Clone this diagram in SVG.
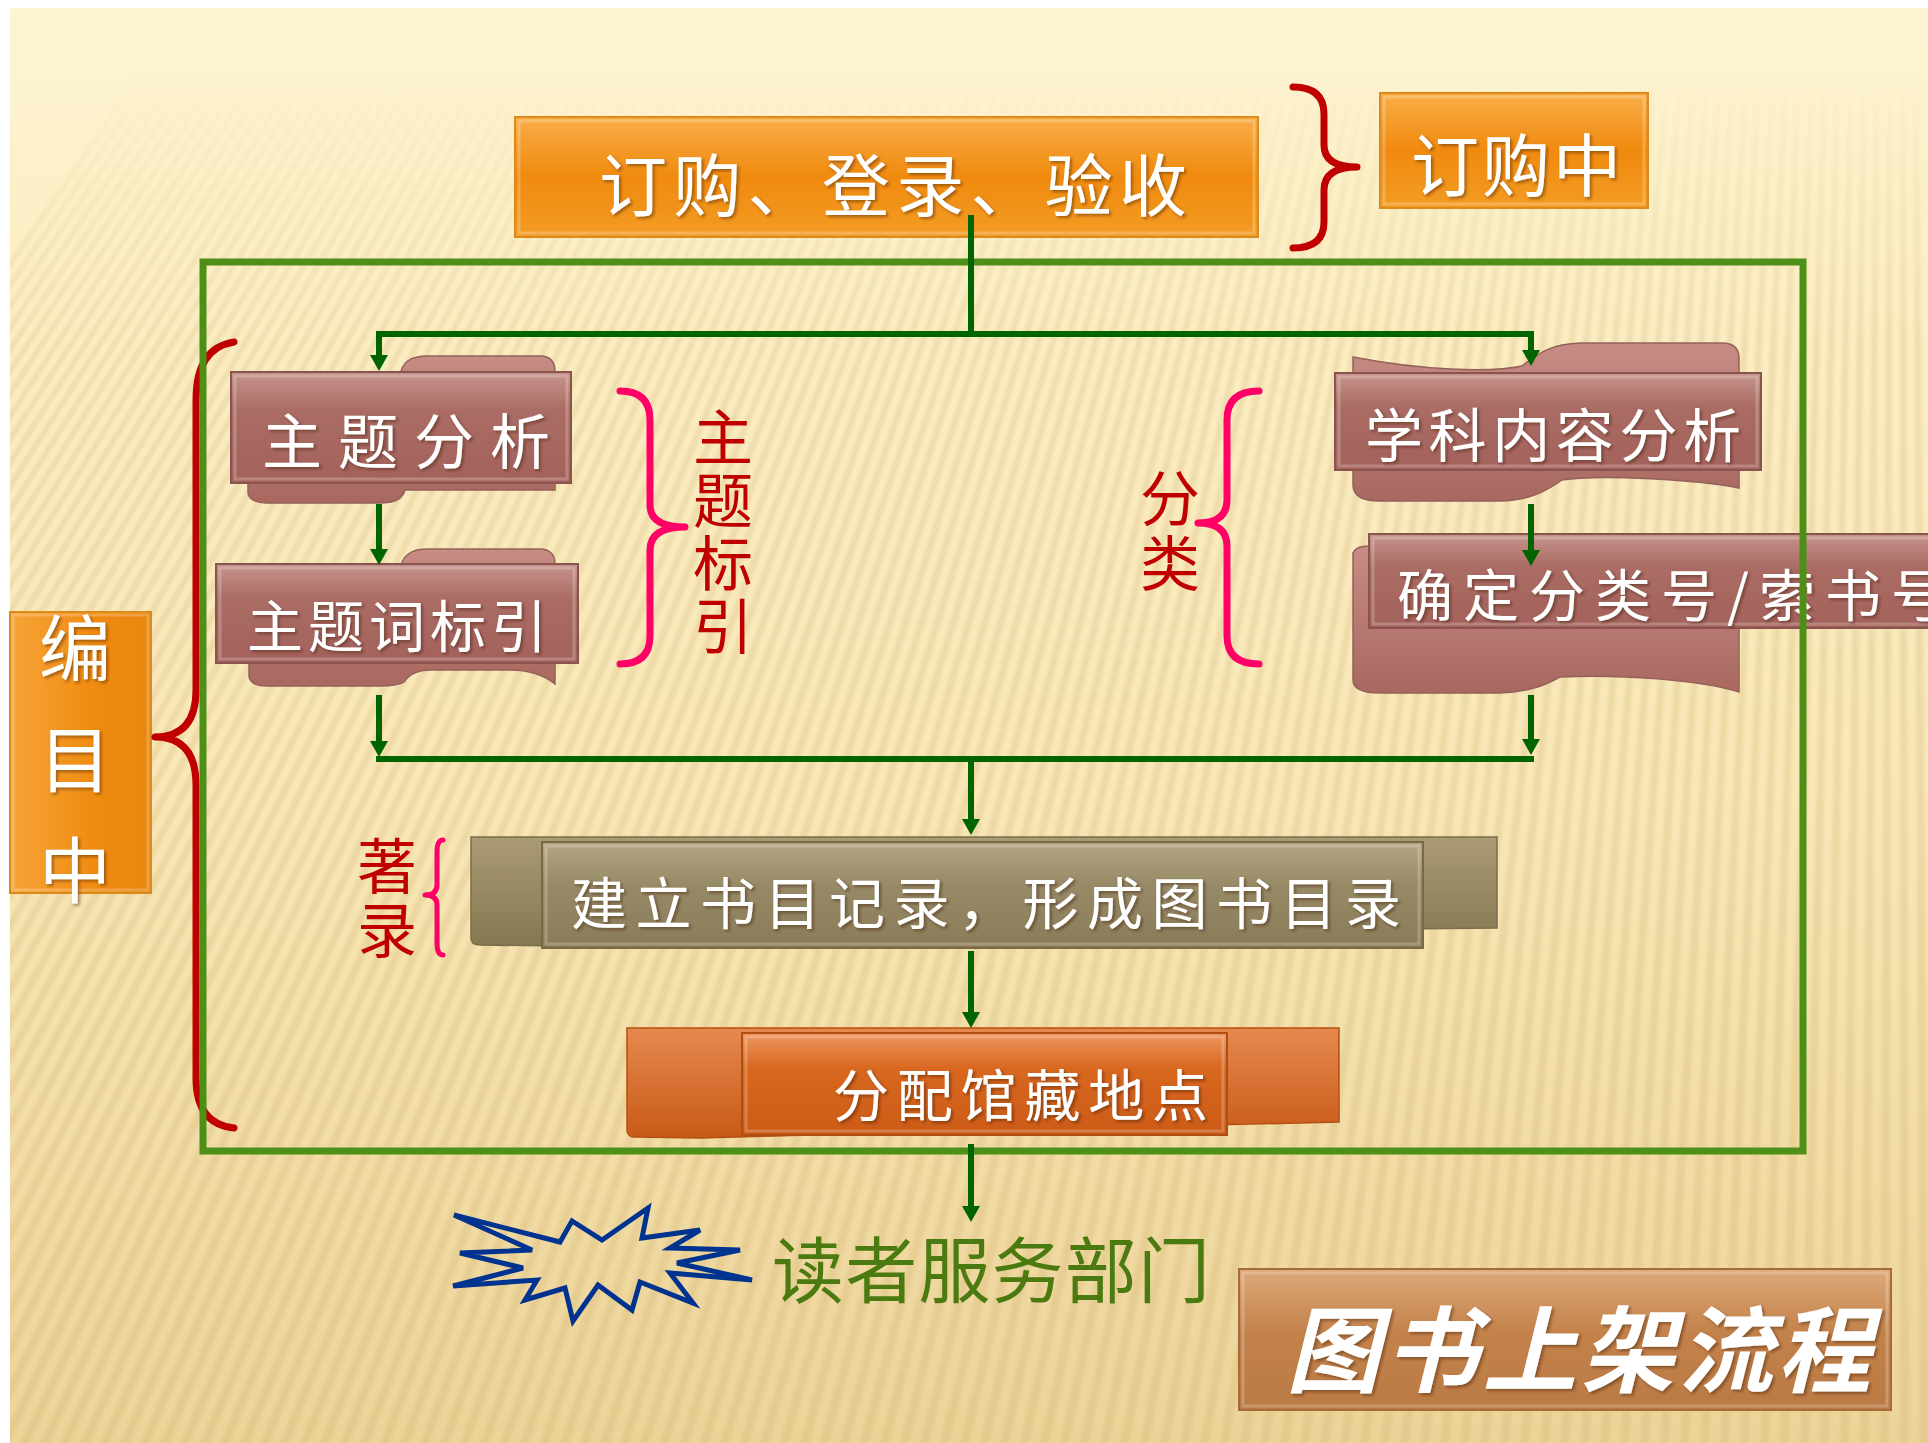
<svg xmlns="http://www.w3.org/2000/svg" width="1928" height="1443" viewBox="0 0 1928 1443">
<defs>
<style>
.wt{fill:#fff;font-family:"Noto Sans CJK SC","Noto Sans",sans-serif;dominant-baseline:central;filter:url(#sh)}
.wv{fill:#fff;font-family:"Noto Sans CJK SC","Noto Sans",sans-serif;writing-mode:vertical-rl;filter:url(#sh)}
.rl{fill:#C00000;font-family:"Noto Sans CJK SC","Noto Sans",sans-serif;font-size:60px;writing-mode:vertical-rl}
.conn{stroke:#006400;stroke-width:6;fill:none}
.arr{marker-end:url(#ah)}
.br{fill:none;stroke:#C00000;stroke-width:7;stroke-linecap:round;stroke-linejoin:round}
.bp{fill:none;stroke:#FF0066;stroke-width:7;stroke-linecap:round;stroke-linejoin:round}
.bev{fill:none;stroke:#fff;stroke-opacity:0.22;stroke-width:3}
</style>
<marker id="ah" markerUnits="userSpaceOnUse" markerWidth="16" markerHeight="18" refX="1" refY="9" orient="auto" viewBox="0 0 16 18"><path d="M0,0 L16,9 L0,18 z" fill="#006400"/></marker>
<filter id="sh" x="-20%" y="-20%" width="140%" height="140%"><feDropShadow dx="2" dy="2" stdDeviation="1.5" flood-color="#3a1a10" flood-opacity="0.45"/></filter>
<filter id="soft"><feGaussianBlur stdDeviation="1.5"/></filter>
<clipPath id="cBg"><rect x="10" y="8" width="1918" height="1435"/></clipPath>
<linearGradient id="gBg" x1="0" y1="0" x2="0" y2="1"><stop offset="0" stop-color="#FDF4D4"/><stop offset="0.12" stop-color="#FCF0C8"/><stop offset="0.55" stop-color="#F8E7B7"/><stop offset="1" stop-color="#ECD499"/></linearGradient>
<linearGradient id="gFade" gradientUnits="userSpaceOnUse" x1="0" y1="70" x2="0" y2="340"><stop offset="0" stop-color="#fff" stop-opacity="0"/><stop offset="1" stop-color="#fff" stop-opacity="1"/></linearGradient>
<mask id="mFade"><rect x="0" y="0" width="1928" height="1443" fill="url(#gFade)"/></mask>
<linearGradient id="gOr" x1="0" y1="0" x2="0" y2="1"><stop offset="0" stop-color="#F8AE48"/><stop offset="0.5" stop-color="#F08A0E"/><stop offset="1" stop-color="#F39C24"/></linearGradient>
<linearGradient id="gOrV" x1="0" y1="0" x2="1" y2="0"><stop offset="0" stop-color="#F6A438"/><stop offset="0.6" stop-color="#F08B10"/><stop offset="1" stop-color="#E8860E"/></linearGradient>
<linearGradient id="gRose" x1="0" y1="0" x2="0" y2="1"><stop offset="0" stop-color="#C6948C"/><stop offset="0.35" stop-color="#AA6C64"/><stop offset="1" stop-color="#A3625B"/></linearGradient>
<linearGradient id="gRoseB" x1="0" y1="0" x2="0" y2="1"><stop offset="0" stop-color="#C78C84"/><stop offset="1" stop-color="#A86860"/></linearGradient>
<linearGradient id="gOl" x1="0" y1="0" x2="0" y2="1"><stop offset="0" stop-color="#B5A783"/><stop offset="0.4" stop-color="#978A66"/><stop offset="1" stop-color="#8A7C58"/></linearGradient>
<linearGradient id="gOlB" x1="0" y1="0" x2="0" y2="1"><stop offset="0" stop-color="#AA9B75"/><stop offset="1" stop-color="#857750"/></linearGradient>
<linearGradient id="gO2" x1="0" y1="0" x2="0" y2="1"><stop offset="0" stop-color="#EE9660"/><stop offset="0.35" stop-color="#D8671F"/><stop offset="1" stop-color="#CB5B16"/></linearGradient>
<linearGradient id="gO2B" x1="0" y1="0" x2="0" y2="1"><stop offset="0" stop-color="#E6894F"/><stop offset="1" stop-color="#C85A18"/></linearGradient>
<linearGradient id="gTi" x1="0" y1="0" x2="0" y2="1"><stop offset="0" stop-color="#DEA97A"/><stop offset="0.45" stop-color="#C3824A"/><stop offset="1" stop-color="#BA7A44"/></linearGradient>
</defs>

<g id="background">
<rect x="0" y="0" width="1928" height="1443" fill="#fff"/>
<rect x="10" y="8" width="1918" height="1435" fill="url(#gBg)"/>
<g clip-path="url(#cBg)"><g mask="url(#mFade)">
<path filter="url(#soft)" fill="#C9A258" fill-opacity="0.2" d="M1900-2500L-800 1443h9zM1900-2500L-780 1443h9zM1900-2500L-760 1443h9zM1900-2500L-740 1443h9zM1900-2500L-720 1443h9zM1900-2500L-700 1443h9zM1900-2500L-680 1443h9zM1900-2500L-660 1443h9zM1900-2500L-640 1443h9zM1900-2500L-620 1443h9zM1900-2500L-600 1443h9zM1900-2500L-580 1443h9zM1900-2500L-560 1443h9zM1900-2500L-540 1443h9zM1900-2500L-520 1443h9zM1900-2500L-500 1443h9zM1900-2500L-480 1443h9zM1900-2500L-460 1443h9zM1900-2500L-440 1443h9zM1900-2500L-420 1443h9zM1900-2500L-400 1443h9zM1900-2500L-380 1443h9zM1900-2500L-360 1443h9zM1900-2500L-340 1443h9zM1900-2500L-320 1443h9zM1900-2500L-300 1443h9zM1900-2500L-280 1443h9zM1900-2500L-260 1443h9zM1900-2500L-240 1443h9zM1900-2500L-220 1443h9zM1900-2500L-200 1443h9zM1900-2500L-180 1443h9zM1900-2500L-160 1443h9zM1900-2500L-140 1443h9zM1900-2500L-120 1443h9zM1900-2500L-100 1443h9zM1900-2500L-80 1443h9zM1900-2500L-60 1443h9zM1900-2500L-40 1443h9zM1900-2500L-20 1443h9zM1900-2500L0 1443h9zM1900-2500L20 1443h9zM1900-2500L40 1443h9zM1900-2500L60 1443h9zM1900-2500L80 1443h9zM1900-2500L100 1443h9zM1900-2500L120 1443h9zM1900-2500L140 1443h9zM1900-2500L160 1443h9zM1900-2500L180 1443h9zM1900-2500L200 1443h9zM1900-2500L220 1443h9zM1900-2500L240 1443h9zM1900-2500L260 1443h9zM1900-2500L280 1443h9zM1900-2500L300 1443h9zM1900-2500L320 1443h9zM1900-2500L340 1443h9zM1900-2500L360 1443h9zM1900-2500L380 1443h9zM1900-2500L400 1443h9zM1900-2500L420 1443h9zM1900-2500L440 1443h9zM1900-2500L460 1443h9zM1900-2500L480 1443h9zM1900-2500L500 1443h9zM1900-2500L520 1443h9zM1900-2500L540 1443h9zM1900-2500L560 1443h9zM1900-2500L580 1443h9zM1900-2500L600 1443h9zM1900-2500L620 1443h9zM1900-2500L640 1443h9zM1900-2500L660 1443h9zM1900-2500L680 1443h9zM1900-2500L700 1443h9zM1900-2500L720 1443h9zM1900-2500L740 1443h9zM1900-2500L760 1443h9zM1900-2500L780 1443h9zM1900-2500L800 1443h9zM1900-2500L820 1443h9zM1900-2500L840 1443h9zM1900-2500L860 1443h9zM1900-2500L880 1443h9zM1900-2500L900 1443h9zM1900-2500L920 1443h9zM1900-2500L940 1443h9zM1900-2500L960 1443h9zM1900-2500L980 1443h9zM1900-2500L1000 1443h9zM1900-2500L1020 1443h9zM1900-2500L1040 1443h9zM1900-2500L1060 1443h9zM1900-2500L1080 1443h9zM1900-2500L1100 1443h9zM1900-2500L1120 1443h9zM1900-2500L1140 1443h9zM1900-2500L1160 1443h9zM1900-2500L1180 1443h9zM1900-2500L1200 1443h9zM1900-2500L1220 1443h9zM1900-2500L1240 1443h9zM1900-2500L1260 1443h9zM1900-2500L1280 1443h9zM1900-2500L1300 1443h9zM1900-2500L1320 1443h9zM1900-2500L1340 1443h9zM1900-2500L1360 1443h9zM1900-2500L1380 1443h9zM1900-2500L1400 1443h9zM1900-2500L1420 1443h9zM1900-2500L1440 1443h9zM1900-2500L1460 1443h9zM1900-2500L1480 1443h9zM1900-2500L1500 1443h9zM1900-2500L1520 1443h9zM1900-2500L1540 1443h9zM1900-2500L1560 1443h9zM1900-2500L1580 1443h9zM1900-2500L1600 1443h9zM1900-2500L1620 1443h9zM1900-2500L1640 1443h9zM1900-2500L1660 1443h9zM1900-2500L1680 1443h9zM1900-2500L1700 1443h9zM1900-2500L1720 1443h9zM1900-2500L1740 1443h9zM1900-2500L1760 1443h9zM1900-2500L1780 1443h9zM1900-2500L1800 1443h9zM1900-2500L1820 1443h9zM1900-2500L1840 1443h9zM1900-2500L1860 1443h9zM1900-2500L1880 1443h9zM1900-2500L1900 1443h9zM1900-2500L1920 1443h9z"/>
</g></g>
</g>

<g id="node-order">
<rect x="515" y="117" width="743" height="120" fill="url(#gOr)" stroke="#DC8A1C" stroke-width="2"/>
<rect x="519" y="121" width="735" height="112" class="bev"/>
<text class="wt" x="599" y="181" font-size="68" textLength="588" lengthAdjust="spacing">订购、登录、验收</text>
</g>

<g id="brace-ordering"><path class="br" d="M1293,87 Q1324,87 1324,114 L1324,145 Q1324,167 1357,167 Q1324,167 1324,190 L1324,222 Q1324,248 1293,248"/></g>

<g id="node-ordering">
<rect x="1380" y="93" width="268" height="115" fill="url(#gOr)" stroke="#DC8A1C" stroke-width="2"/>
<rect x="1384" y="97" width="260" height="107" class="bev"/>
<text class="wt" x="1411" y="161" font-size="68" textLength="210" lengthAdjust="spacing">订购中</text>
</g>

<g id="node-cataloging">
<rect x="10" y="612" width="141" height="281" fill="url(#gOrV)" stroke="#DC8A1C" stroke-width="2"/>
<rect x="13" y="615" width="135" height="275" class="bev"/>
<text class="wv" x="75" y="612" font-size="72" letter-spacing="39">编目中</text>
</g>

<g id="brace-cataloging"><path class="br" d="M234,342 Q196,348 196,400 L196,690 Q196,737 155,737 Q196,737 196,785 L196,1078 Q196,1124 234,1128"/></g>

<g id="node-subject-analysis">
<path d="M248,376 L400,376 C402,362 410,356 428,356 L540,356 C550,356 555,362 555,372 L555,490 L405,490 C403,498 396,503 380,503 L266,503 C256,503 248,499 248,492 Z" fill="url(#gRoseB)" stroke="#94605A" stroke-width="1.5"/>
<rect x="231" y="372" width="340" height="111" fill="url(#gRose)" stroke="#8A544E" stroke-width="2"/>
<rect x="235" y="376" width="332" height="103" class="bev"/>
<text class="wt" x="262" y="437" font-size="60" textLength="288" lengthAdjust="spacing">主题分析</text>
</g>

<g id="node-subject-indexing">
<path d="M249,570 L400,570 C402,556 410,549 428,549 L540,549 C550,549 555,555 555,564 L555,684 C545,676 530,670 510,670 L430,670 C415,670 408,676 404,682 C400,685 392,686 380,686 L266,686 C256,686 249,682 249,676 Z" fill="url(#gRoseB)" stroke="#94605A" stroke-width="1.5"/>
<rect x="216" y="564" width="362" height="99" fill="url(#gRose)" stroke="#8A544E" stroke-width="2"/>
<rect x="220" y="568" width="354" height="91" class="bev"/>
<text class="wt" x="247" y="622" font-size="56" textLength="300" lengthAdjust="spacing">主题词标引</text>
</g>

<g id="label-subject">
<path class="bp" d="M620,391 Q650,391 650,420 L650,505 Q650,527 685,527 Q650,527 650,550 L650,636 Q650,664 620,664"/>
<text class="rl" x="723" y="407" letter-spacing="3">主题标引</text>
</g>

<g id="label-classify">
<path class="bp" d="M1259,391 Q1227,391 1227,420 L1227,500 Q1227,523 1198,523 Q1227,523 1227,546 L1227,636 Q1227,664 1259,664"/>
<text class="rl" x="1170" y="468" letter-spacing="5">分类</text>
</g>

<g id="node-subject-content">
<path d="M1353,357 C1420,370 1490,373 1522,366 C1540,352 1552,344 1580,343 L1722,343 C1734,343 1739,348 1739,358 L1739,488 C1700,480 1600,474 1562,480 C1545,492 1530,500 1500,501 L1380,501 C1362,501 1353,495 1353,485 Z" fill="url(#gRoseB)" stroke="#94605A" stroke-width="1.5"/>
<rect x="1335" y="373" width="426" height="97" fill="url(#gRose)" stroke="#8A544E" stroke-width="2"/>
<rect x="1339" y="377" width="418" height="89" class="bev"/>
<text class="wt" x="1365" y="432" font-size="58" textLength="376" lengthAdjust="spacing">学科内容分析</text>
</g>

<g id="node-call-number">
<path d="M1353,553 C1356,547 1362,546 1372,546 L1739,546 L1739,692 C1700,680 1620,674 1560,677 C1545,685 1530,692 1500,693 L1380,693 C1362,693 1353,688 1353,680 Z" fill="url(#gRoseB)" stroke="#94605A" stroke-width="1.5"/>
<rect x="1369" y="534" width="600" height="94" fill="url(#gRose)" stroke="#8A544E" stroke-width="2"/>
<rect x="1373" y="538" width="592" height="86" class="bev"/>
<text class="wt" x="1397" y="591" font-size="56" letter-spacing="10">确定分类号/索书号</text>
</g>

<g id="label-description">
<path class="bp" style="stroke-width:5" d="M443,840 Q437,840 437,852 L437,885 Q437,895 425,895 Q437,895 437,905 L437,943 Q437,955 443,955"/>
<text class="rl" x="387" y="836" letter-spacing="4">著录</text>
</g>

<g id="node-catalog-record">
<path d="M471,837 H1497 V928 C1300,930 700,940 560,946 L480,945 C474,945 471,942 471,938 Z" fill="url(#gOlB)" stroke="#7A6D4C" stroke-width="1.5"/>
<rect x="542" y="842" width="881" height="106" fill="url(#gOl)" stroke="#776A48" stroke-width="2"/>
<rect x="546" y="846" width="873" height="98" class="bev"/>
<text class="wt" x="571" y="899" font-size="56" textLength="830" lengthAdjust="spacing">建立书目记录，形成图书目录</text>
</g>

<g id="node-location">
<path d="M627,1028 H1339 V1122 C1200,1124 800,1136 700,1138 L634,1137 C630,1137 627,1134 627,1130 Z" fill="url(#gO2B)" stroke="#B4500F" stroke-width="1.5"/>
<rect x="742" y="1033" width="485" height="102" fill="url(#gO2)" stroke="#B04E10" stroke-width="2"/>
<rect x="746" y="1037" width="477" height="94" class="bev"/>
<text class="wt" x="833" y="1091" font-size="56" textLength="375" lengthAdjust="spacing">分配馆藏地点</text>
</g>

<g id="frame-cataloging">
<rect x="203" y="262" width="1600" height="889" fill="none" stroke="#4E8F18" stroke-width="7"/>
</g>

<g id="node-reader-services">
<path d="M454,1215 L560,1242 L572,1221 L602,1240 L648,1208 L642,1238 L700,1230 L670,1248 L740,1250 L677,1263 L752,1280 L670,1273 L693,1303 L640,1282 L632,1310 L598,1285 L573,1321 L565,1288 L525,1300 L537,1280 L453,1286 L523,1268 L460,1253 L532,1250 Z" fill="none" stroke="#00338F" stroke-width="5" stroke-linejoin="miter"/>
<text x="772" y="1265" font-family="'Noto Sans CJK SC','Noto Sans',sans-serif" font-size="72" fill="#4A7A10" dominant-baseline="central" textLength="438" lengthAdjust="spacing">读者服务部门</text>
</g>

<g id="title">
<rect x="1239" y="1269" width="652" height="141" fill="url(#gTi)" stroke="#A46C3A" stroke-width="2"/>
<rect x="1243" y="1273" width="644" height="133" class="bev"/>
<text class="wt" x="1286" y="1344" font-size="94" font-weight="700" font-style="italic" textLength="585" lengthAdjust="spacing">图书上架流程</text>
</g>

<g id="connectors">
<path class="conn" d="M971,215 V334"/>
<path class="conn" d="M376,334 H1534"/>
<path class="conn arr" d="M379,331 V356"/>
<path class="conn arr" d="M1531,331 V351"/>
<path class="conn arr" d="M379,504 V550"/>
<path class="conn arr" d="M379,695 V742"/>
<path class="conn arr" d="M1531,504 V551"/>
<path class="conn arr" d="M1531,695 V740"/>
<path class="conn" d="M376,759 H1534"/>
<path class="conn arr" d="M971,759 V820"/>
<path class="conn arr" d="M971,951 V1013"/>
<path class="conn arr" d="M971,1144 V1207"/>
</g>
</svg>
